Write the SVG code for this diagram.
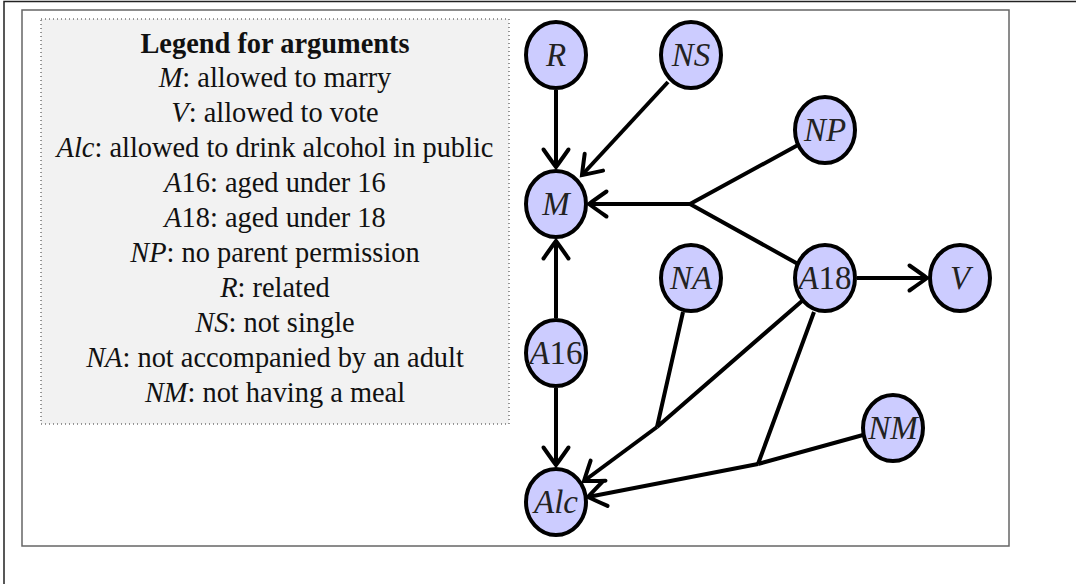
<svg xmlns="http://www.w3.org/2000/svg" width="1076" height="584" viewBox="0 0 1076 584">
<style>
.lg{font-family:"Liberation Serif",serif;font-size:28.4px;fill:#111;text-anchor:middle}
.it{font-style:italic}
.nd ellipse{fill:#ccccff;stroke:#000;stroke-width:4}
.nd text{font-family:"Liberation Serif",serif;font-size:33px;font-style:italic;fill:#222;text-anchor:middle;dominant-baseline:central}
.e{stroke:#000;stroke-width:4;fill:none}
</style>
<defs>
<marker id="ar" markerUnits="userSpaceOnUse" markerWidth="30" markerHeight="30" refX="0" refY="0" viewBox="-16 -12 20 24" orient="auto" overflow="visible">
<path d="M-14,-10 Q-4,-3 0,0 Q-4,3 -14,10" fill="none" stroke="#000" stroke-width="3.2" stroke-linecap="round"/>
</marker>
</defs>
<rect width="1076" height="584" fill="#fff"/>
<path d="M4,584 V1.5 H1076" fill="none" stroke="#222" stroke-width="1.5"/>
<rect x="22" y="10" width="987" height="536" fill="none" stroke="#666" stroke-width="1.5"/>
<g id="legend">
<rect x="41" y="19" width="468" height="405" fill="#f2f2f2" stroke="#333" stroke-width="1" stroke-dasharray="1 3"/>
<text class="lg" x="275" y="53" font-weight="bold" font-size="31">Legend for arguments</text>
<text class="lg" x="275" y="87"><tspan class="it">M</tspan>: allowed to marry</text>
<text class="lg" x="275" y="122"><tspan class="it">V</tspan>: allowed to vote</text>
<text class="lg" x="275" y="157"><tspan class="it">Alc</tspan>: allowed to drink alcohol in public</text>
<text class="lg" x="275" y="192"><tspan class="it">A</tspan>16: aged under 16</text>
<text class="lg" x="275" y="227"><tspan class="it">A</tspan>18: aged under 18</text>
<text class="lg" x="275" y="262"><tspan class="it">NP</tspan>: no parent permission</text>
<text class="lg" x="275" y="297"><tspan class="it">R</tspan>: related</text>
<text class="lg" x="275" y="332"><tspan class="it">NS</tspan>: not single</text>
<text class="lg" x="275" y="367"><tspan class="it">NA</tspan>: not accompanied by an adult</text>
<text class="lg" x="275" y="402"><tspan class="it">NM</tspan>: not having a meal</text>
</g>
<g id="connectors">
<path class="e" d="M556,90 V167" marker-end="url(#ar)"/>
<path class="e" d="M668,82 L582,175" marker-end="url(#ar)"/>
<path class="e" d="M798,145 L690,204 M798,264 L690,204"/>
<path class="e" d="M690,204 H589" marker-end="url(#ar)"/>
<path class="e" d="M857,278 H927" marker-end="url(#ar)"/>
<path class="e" d="M556,318 V241" marker-end="url(#ar)"/>
<path class="e" d="M556,388 V465" marker-end="url(#ar)"/>
<path class="e" d="M683,312 L657,427 M802,301 L657,427"/>
<path class="e" d="M657,427 L584,481" marker-end="url(#ar)"/>
<path class="e" d="M814,312 L758,464 M863,435 L758,464"/>
<path class="e" d="M758,464 L588,497" marker-end="url(#ar)"/>
</g>
<g id="R" class="nd"><ellipse cx="556" cy="55" rx="30" ry="33"/><text x="556" y="55">R</text></g>
<g id="NS" class="nd"><ellipse cx="691" cy="55" rx="30" ry="33"/><text x="691" y="55">NS</text></g>
<g id="NP" class="nd"><ellipse cx="825" cy="130" rx="30" ry="33"/><text x="825" y="130">NP</text></g>
<g id="M" class="nd"><ellipse cx="556" cy="204" rx="30" ry="33"/><text x="556" y="204">M</text></g>
<g id="NA" class="nd"><ellipse cx="691" cy="278" rx="30" ry="33"/><text x="691" y="278">NA</text></g>
<g id="A18" class="nd"><ellipse cx="825" cy="278" rx="30" ry="33"/><text x="825" y="278"><tspan>A</tspan><tspan font-style="normal">18</tspan></text></g>
<g id="V" class="nd"><ellipse cx="960" cy="278" rx="30" ry="33"/><text x="960" y="278">V</text></g>
<g id="A16" class="nd"><ellipse cx="556" cy="353" rx="30" ry="33"/><text x="556" y="353"><tspan>A</tspan><tspan font-style="normal">16</tspan></text></g>
<g id="NM" class="nd"><ellipse cx="893" cy="428" rx="30" ry="33"/><text x="893" y="428">NM</text></g>
<g id="Alc" class="nd"><ellipse cx="556" cy="502" rx="30" ry="33"/><text x="556" y="502">Alc</text></g>
</svg>
